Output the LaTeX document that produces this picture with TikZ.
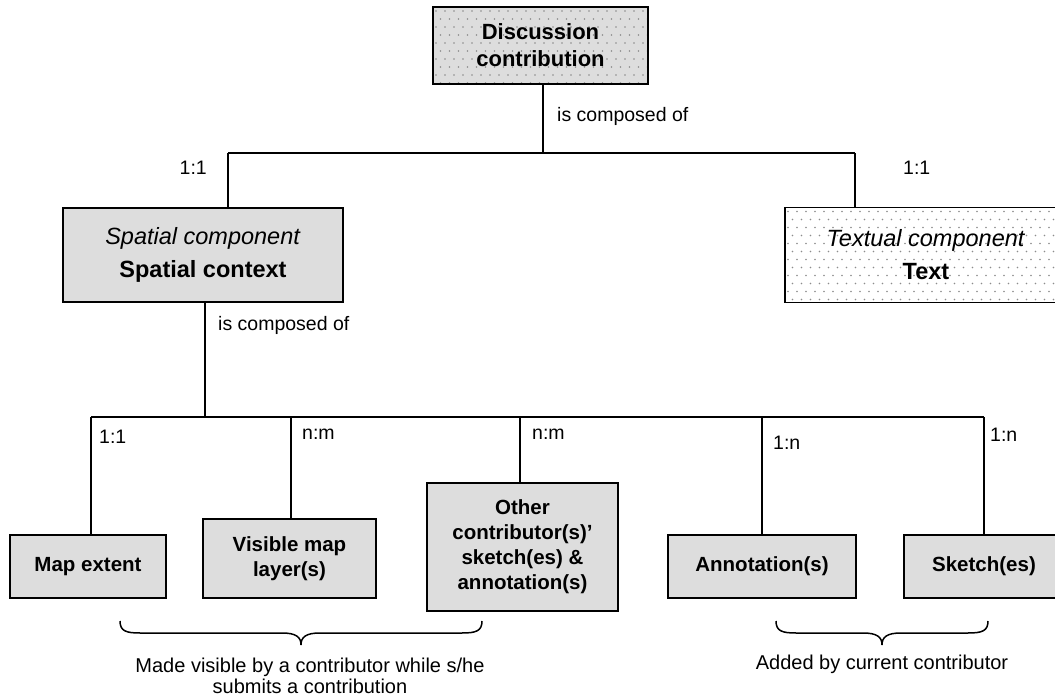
\documentclass[tikz,border=0pt]{standalone}
\usepackage{fontspec}
\setmainfont{Liberation Sans}
\usetikzlibrary{calc}

\definecolor{boxgray}{RGB}{221,221,221}
\definecolor{dotgray}{RGB}{140,140,140}

\newcommand\topfont{\fontsize{22}{27}\selectfont\bfseries}
\newcommand\compfont{\fontsize{23.5}{33}\selectfont}
\newcommand\leaffont{\fontsize{20.5}{25}\selectfont\bfseries}
\newcommand\lblfont{\fontsize{19.5}{19.5}\selectfont}
\newcommand\notefont{\fontsize{20}{21.5}\selectfont}

\tikzset{
  box/.style={draw=black, line width=1.6pt, fill=boxgray, inner sep=0pt,
              outer sep=0pt, align=center},
  dotted box/.style={path picture={
      \foreach \j in {0,...,13}{
        \pgfmathsetmacro{\off}{4.5*mod(\j,2)}
        \foreach \i in {0,...,33}{
          \fill[dotgray] ($(path picture bounding box.north west)
              +({\i*9+\off+3}, {\j*8+4})$) circle[radius=0.8pt];
        }
      }
  }},
  link/.style={line width=1.8pt, black},
  lbl/.style={font=\lblfont, inner sep=0pt},
  note/.style={font=\notefont, inner sep=0pt, align=center},
  bracepath/.style={line width=1.5pt, black},
}

\begin{document}
\begin{tikzpicture}[x=1pt, y=-1pt]
  \useasboundingbox (0,0) rectangle (1055,700);
  \fill[white] (0,0) rectangle (1055,700);

  % top level
  \node[box, dotted box, font=\topfont, minimum width=215pt, minimum height=77pt]
    (disc) at (540.5,45.5) {Discussion\\contribution};

  \node[box, font=\compfont, minimum width=280pt, minimum height=94pt]
    (spat) at (203,255) {\textit{Spatial component}\\\textbf{Spatial context}};

  % this box runs past the right edge of the page
  \node[box, dotted box, fill=white, font=\compfont, minimum width=282pt, minimum height=95pt]
    (textc) at (926,255) {\textit{Textual component}\\\textbf{Text}};

  % leaves
  \node[box, font=\leaffont, minimum width=156pt, minimum height=63pt]
    (mapext) at (88,566.5) {Map extent};
  \node[box, font=\leaffont, minimum width=173pt, minimum height=79pt]
    (vismap) at (289.5,558.5) {Visible map\\layer(s)};
  \node[box, font=\leaffont, minimum width=191pt, minimum height=128pt]
    (other) at (522.5,547) {Other\\contributor(s)'\\sketch(es) \&\\annotation(s)};
  \node[box, font=\leaffont, minimum width=188pt, minimum height=63pt]
    (annot) at (762,566.5) {Annotation(s)};
  \node[box, font=\leaffont, minimum width=160pt, minimum height=63pt]
    (sketch) at (984,566.5) {Sketch(es)};

  % junction points of the tree
  \coordinate (j1) at (543,153);
  \coordinate (bL) at (228,153);
  \coordinate (bR) at (855,153);
  \coordinate (j2) at (205,417);
  \coordinate (cL) at (91,417);
  \coordinate (cR) at (984,417);
  \coordinate (c2) at (291,417);
  \coordinate (c3) at (520,417);
  \coordinate (c4) at (762,417);

  % first level connectors
  \draw[link] (disc.south -| j1) -- (j1);
  \draw[link] (bL) -- (bR);
  \draw[link] (bL) -- (bL |- spat.north);
  \draw[link] (bR) -- (bR |- textc.north);

  % second level connectors
  \draw[link] (spat.south -| j2) -- (j2);
  \draw[link] (cL) -- (cR);
  \draw[link] (cL) -- (cL |- mapext.north);
  \draw[link] (c2) -- (c2 |- vismap.north);
  \draw[link] (c3) -- (c3 |- other.north);
  \draw[link] (c4) -- (c4 |- annot.north);
  \draw[link] (cR) -- (cR |- sketch.north);

  % labels
  \node[lbl, anchor=west] (l0) at (557,116) {is composed of};
  \node[lbl, anchor=east] (l1) at (207,168) {1:1};
  \node[lbl, anchor=west] (l2) at (903,168) {1:1};
  \node[lbl, anchor=west] (l3) at (218,325) {is composed of};
  \node[lbl, anchor=west] (l4) at (99,437) {1:1};
  \node[lbl, anchor=west] (l5) at (302,434) {n:m};
  \node[lbl, anchor=west] (l6) at (532,434) {n:m};
  \node[lbl, anchor=west] (l7) at (773,443) {1:n};
  \node[lbl, anchor=west] (l8) at (990,435) {1:n};

  % braces
  \draw[bracepath] (120,621) .. controls (120,631) and (126,633) .. (140,633)
    -- (282,633) .. controls (296,633) and (301,637) .. (301,645)
    .. controls (301,637) and (306,633) .. (320,633)
    -- (462,633) .. controls (476,633) and (482,631) .. (482,621);
  \draw[bracepath] (776,621) .. controls (776,631) and (782,633) .. (796,633)
    -- (863,633) .. controls (877,633) and (882,637) .. (882,645)
    .. controls (882,637) and (887,633) .. (901,633)
    -- (968,633) .. controls (982,633) and (988,631) .. (988,621);

  \node[note] (b1) at (310,676)
    {Made visible by a contributor while s/he\\submits a contribution};
  \node[note] (b2) at (882,664) {Added by current contributor};
\end{tikzpicture}
\end{document}
